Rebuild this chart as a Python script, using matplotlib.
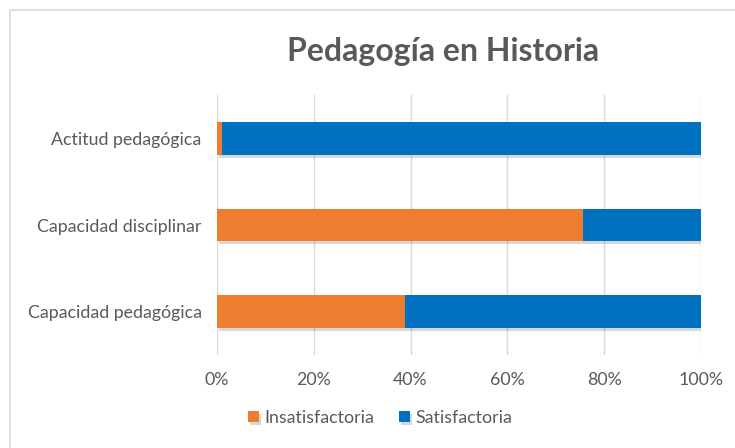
import matplotlib.pyplot as plt
import matplotlib.patheffects as pe
from matplotlib.patches import Rectangle

categorias = ['Capacidad pedagógica', 'Capacidad disciplinar', 'Actitud pedagógica']
insatisfactoria = [38.8, 75.6, 1.1]
satisfactoria = [61.2, 24.4, 98.9]
ticks = [0, 20, 40, 60, 80, 100]

plt.rcParams['font.family'] = ['Lato', 'DejaVu Sans']
gris = '#595959'

fig = plt.figure(figsize=(7.35, 4.48), dpi=100)
fig.patches.append(Rectangle((10 / 735, -0.1), 1.2, 1 - 10 / 448 + 0.1,
                             transform=fig.transFigure, fill=False,
                             edgecolor='#D9D9D9', linewidth=1.2))
ax = fig.add_axes([217 / 735, 1 - 355 / 448, 484 / 735, 260 / 448])

sombra = [pe.SimplePatchShadow(offset=(1.5, -2), shadow_rgbFace='#7f7f7f', alpha=0.3), pe.Normal()]
y = range(len(categorias))
b1 = ax.barh(y, insatisfactoria, height=0.38, color='#ED7D31', label='Insatisfactoria', zorder=3)
b2 = ax.barh(y, satisfactoria, left=insatisfactoria, height=0.38, color='#0070C0',
             label='Satisfactoria', zorder=3)
for bar in list(b1) + list(b2):
    bar.set_path_effects(sombra)

ax.set_xlim(0, 100)
ax.set_ylim(-0.5, 2.5)
ax.set_xticks(ticks)
ax.set_xticklabels([f'{t}%' for t in ticks])
ax.set_yticks(list(y))
ax.set_yticklabels(categorias)
ax.tick_params(length=0, labelsize=12.8, labelcolor=gris)
ax.tick_params(axis='x', pad=12)
ax.tick_params(axis='y', pad=11)
ax.grid(axis='x', color='#D9D9D9', linewidth=1, zorder=0)
for s in ax.spines.values():
    s.set_visible(False)

fig.text(443 / 735, 1 - 52 / 448, 'Pedagogía en Historia', ha='center', va='center',
         fontsize=23, fontweight='bold', color=gris)
fig.legend(handles=[b1, b2], loc='center', bbox_to_anchor=(380 / 735, 1 - 418 / 448),
           ncol=2, frameon=False, fontsize=12.8, labelcolor=gris,
           handlelength=0.6, handleheight=0.6, handletextpad=0.3, columnspacing=1.4)

fig.savefig('out.png', dpi=100)
